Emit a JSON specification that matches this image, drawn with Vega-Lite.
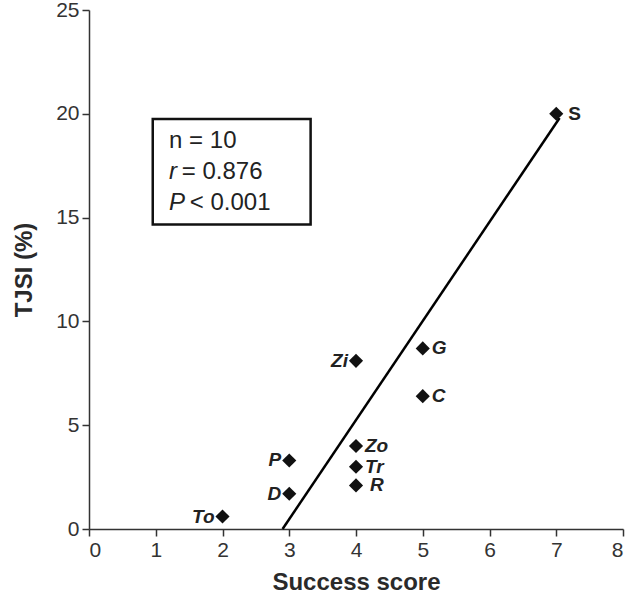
{
  "$schema": "https://vega.github.io/schema/vega-lite/v6.json",
  "width": 534,
  "height": 519,
  "autosize": {"type": "none"},
  "padding": {"left": 89, "top": 10, "right": 7, "bottom": 72},
  "background": "white",
  "config": {
    "view": {"stroke": null},
    "font": "Liberation Sans",
    "axis": {
      "grid": false,
      "domainColor": "#333333",
      "domainWidth": 1.5,
      "tickColor": "#333333",
      "tickWidth": 1.5,
      "tickSize": 7,
      "labelFont": "Liberation Sans",
      "labelFontSize": 21,
      "labelColor": "#333333",
      "labelPadding": 3,
      "titleFont": "Liberation Sans",
      "titleFontSize": 24,
      "titleFontWeight": "bold",
      "titleColor": "#2a2a2a"
    }
  },
  "datasets": {
    "pts": [
      {"name": "S", "score": 7, "tjsi": 20.0},
      {"name": "G", "score": 5, "tjsi": 8.7},
      {"name": "Zi", "score": 4, "tjsi": 8.1},
      {"name": "C", "score": 5, "tjsi": 6.4},
      {"name": "Zo", "score": 4, "tjsi": 4.0},
      {"name": "Tr", "score": 4, "tjsi": 3.0},
      {"name": "R", "score": 4, "tjsi": 2.1},
      {"name": "P", "score": 3, "tjsi": 3.3},
      {"name": "D", "score": 3, "tjsi": 1.7},
      {"name": "To", "score": 2, "tjsi": 0.6}
    ],
    "fit": [
      {"score": 2.9, "tjsi": 0},
      {"score": 7.05, "tjsi": 19.8}
    ],
    "box": [
      {"x1": 0.955, "x2": 3.32, "y1": 14.67, "y2": 19.75}
    ],
    "stat_plain": [
      {"t": "n = 10", "x": 1.2, "y": 18.7},
      {"t": "= 0.876", "x": 1.39, "y": 17.2},
      {"t": "< 0.001", "x": 1.51, "y": 15.7}
    ],
    "stat_italic": [
      {"t": "r", "x": 1.2, "y": 17.2},
      {"t": "P", "x": 1.2, "y": 15.7}
    ]
  },
  "layer": [
    {
      "data": {"name": "box"},
      "mark": {"type": "rect", "fill": "white", "stroke": "#111111", "strokeWidth": 2.5},
      "encoding": {
        "x": {"field": "x1", "type": "quantitative", "scale": {"domain": [0, 8]}},
        "x2": {"field": "x2"},
        "y": {"field": "y1", "type": "quantitative", "scale": {"domain": [0, 25]}},
        "y2": {"field": "y2"}
      }
    },
    {
      "data": {"name": "stat_plain"},
      "mark": {"type": "text", "align": "left", "baseline": "middle", "fontSize": 24, "color": "#222222"},
      "encoding": {
        "x": {"field": "x", "type": "quantitative"},
        "y": {"field": "y", "type": "quantitative"},
        "text": {"field": "t"}
      }
    },
    {
      "data": {"name": "stat_italic"},
      "mark": {"type": "text", "align": "left", "baseline": "middle", "fontSize": 24, "fontStyle": "italic", "color": "#222222"},
      "encoding": {
        "x": {"field": "x", "type": "quantitative"},
        "y": {"field": "y", "type": "quantitative"},
        "text": {"field": "t"}
      }
    },
    {
      "data": {"name": "fit"},
      "mark": {"type": "line", "color": "#000000", "strokeWidth": 2.5},
      "encoding": {
        "x": {"field": "score", "type": "quantitative"},
        "y": {"field": "tjsi", "type": "quantitative"}
      }
    },
    {
      "data": {"name": "pts"},
      "mark": {"type": "point", "shape": "diamond", "filled": true, "size": 200, "color": "#111111", "opacity": 1},
      "encoding": {
        "x": {
          "field": "score", "type": "quantitative",
          "scale": {"domain": [0, 8], "nice": false},
          "axis": {"values": [0, 1, 2, 3, 4, 5, 6, 7, 8], "format": "d", "title": "Success score", "titlePadding": 10}
        },
        "y": {
          "field": "tjsi", "type": "quantitative",
          "scale": {"domain": [0, 25], "nice": false},
          "axis": {"values": [0, 5, 10, 15, 20, 25], "format": "d", "title": "TJSI (%)", "titlePadding": 19}
        }
      }
    },
    {
      "data": {"name": "pts"},
      "transform": [{"filter": {"field": "name", "equal": "S"}}],
      "mark": {"type": "text", "align": "left", "baseline": "middle", "dx": 12, "fontSize": 19, "fontWeight": "bold", "color": "#222222"},
      "encoding": {
        "x": {"field": "score", "type": "quantitative"},
        "y": {"field": "tjsi", "type": "quantitative"},
        "text": {"field": "name"}
      }
    },
    {
      "data": {"name": "pts"},
      "transform": [{"filter": {"field": "name", "oneOf": ["G", "C", "Zo", "Tr"]}}],
      "mark": {"type": "text", "align": "left", "baseline": "middle", "dx": 9, "fontSize": 19, "fontWeight": "bold", "fontStyle": "italic", "color": "#222222"},
      "encoding": {
        "x": {"field": "score", "type": "quantitative"},
        "y": {"field": "tjsi", "type": "quantitative"},
        "text": {"field": "name"}
      }
    },
    {
      "data": {"name": "pts"},
      "transform": [{"filter": {"field": "name", "equal": "R"}}],
      "mark": {"type": "text", "align": "left", "baseline": "middle", "dx": 14, "fontSize": 19, "fontWeight": "bold", "fontStyle": "italic", "color": "#222222"},
      "encoding": {
        "x": {"field": "score", "type": "quantitative"},
        "y": {"field": "tjsi", "type": "quantitative"},
        "text": {"field": "name"}
      }
    },
    {
      "data": {"name": "pts"},
      "transform": [{"filter": {"field": "name", "oneOf": ["Zi", "P", "D", "To"]}}],
      "mark": {"type": "text", "align": "right", "baseline": "middle", "dx": -8, "fontSize": 19, "fontWeight": "bold", "fontStyle": "italic", "color": "#222222"},
      "encoding": {
        "x": {"field": "score", "type": "quantitative"},
        "y": {"field": "tjsi", "type": "quantitative"},
        "text": {"field": "name"}
      }
    }
  ]
}
